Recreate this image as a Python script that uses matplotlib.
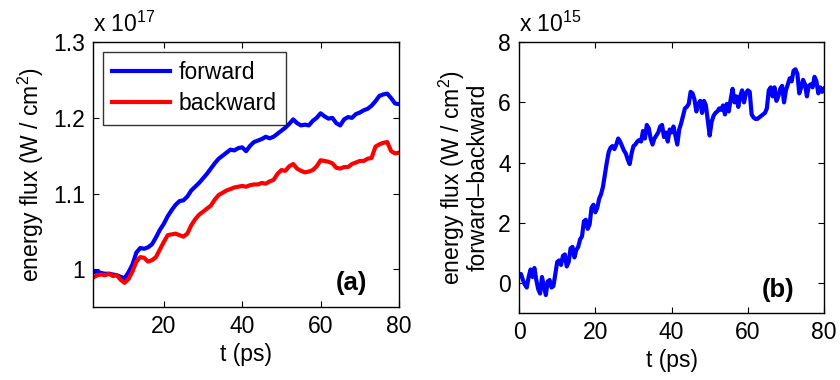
import numpy as np
import matplotlib.pyplot as plt
from matplotlib.ticker import FuncFormatter

plt.rcParams['font.family'] = ['Liberation Sans', 'DejaVu Sans']
plt.rcParams['mathtext.fontset'] = 'custom'
plt.rcParams['mathtext.rm'] = 'Liberation Sans'

# panel (a): energy flux in units of 1e17 W/cm^2, one value per ps from 2 to 80 ps
t_a = np.arange(2, 81, 1)
forward = [0.996, 0.997, 0.995, 0.994, 0.994, 0.993, 0.992, 0.990, 0.988, 0.996,
           1.006, 1.022, 1.028, 1.027, 1.029, 1.033, 1.042, 1.052, 1.060, 1.070,
           1.078, 1.085, 1.090, 1.091, 1.096, 1.104, 1.109, 1.114, 1.120, 1.126,
           1.133, 1.140, 1.146, 1.150, 1.154, 1.158, 1.157, 1.160, 1.161, 1.156,
           1.163, 1.168, 1.170, 1.172, 1.175, 1.173, 1.175, 1.179, 1.183, 1.187,
           1.192, 1.198, 1.193, 1.190, 1.191, 1.190, 1.196, 1.200, 1.206, 1.202,
           1.199, 1.200, 1.193, 1.190, 1.198, 1.201, 1.200, 1.205, 1.207, 1.210,
           1.212, 1.216, 1.222, 1.229, 1.231, 1.232, 1.226, 1.219, 1.218]
backward = [0.989, 0.992, 0.993, 0.992, 0.994, 0.991, 0.992, 0.986, 0.982, 0.987,
            0.997, 1.010, 1.016, 1.015, 1.010, 1.012, 1.016, 1.026, 1.036, 1.045,
            1.046, 1.047, 1.045, 1.043, 1.047, 1.058, 1.066, 1.072, 1.076, 1.080,
            1.084, 1.092, 1.098, 1.101, 1.104, 1.106, 1.108, 1.109, 1.110, 1.109,
            1.111, 1.112, 1.112, 1.114, 1.113, 1.116, 1.118, 1.126, 1.131, 1.130,
            1.136, 1.139, 1.133, 1.130, 1.128, 1.129, 1.131, 1.136, 1.144, 1.143,
            1.142, 1.140, 1.134, 1.133, 1.135, 1.135, 1.139, 1.141, 1.143, 1.143,
            1.146, 1.147, 1.162, 1.165, 1.167, 1.168, 1.156, 1.153, 1.154]

# panel (b): forward - backward in units of 1e15 W/cm^2, every 0.5 ps from 0 to 80 ps
t_b = np.arange(0, 80.5, 0.5)
diff = [0.25, 0.30, 0.10, -0.05, -0.15, 0.20, 0.45, 0.20, 0.50, 0.10,
        -0.20, -0.35, 0.20, -0.10, -0.40, 0.05, 0.10, -0.15, -0.10, 0.30,
        0.70, 0.75, 0.60, 0.90, 0.95, 0.55, 0.70, 1.15, 1.20, 0.85,
        1.10, 1.20, 1.45, 1.55, 2.05, 2.10, 1.80, 1.95, 2.50, 2.60,
        2.35, 2.50, 2.80, 2.95, 3.20, 3.60, 4.00, 4.35, 4.50, 4.55,
        4.45, 4.60, 4.80, 4.70, 4.55, 4.40, 4.30, 4.10, 3.95, 4.30,
        4.55, 4.60, 4.70, 4.75, 4.70, 5.05, 4.80, 5.25, 5.15, 4.80,
        4.60, 4.80, 4.90, 5.00, 5.20, 5.25, 4.85, 5.00, 4.70, 5.10,
        5.00, 5.20, 4.90, 4.60, 5.10, 5.30, 5.55, 5.80, 5.85, 5.95,
        6.35, 6.30, 6.10, 5.70, 5.95, 6.05, 5.65, 6.05, 5.90, 5.40,
        4.90, 5.35, 5.55, 5.65, 5.70, 5.80, 5.75, 5.90, 5.60, 5.95,
        5.70, 6.10, 6.45, 6.00, 6.20, 5.85, 6.20, 6.40, 6.00, 6.30,
        6.40, 6.35, 5.60, 5.50, 5.45, 5.45, 5.50, 5.55, 5.60, 5.65,
        5.80, 6.40, 6.50, 6.20, 6.50, 6.05, 6.20, 6.45, 6.55, 6.00,
        6.40, 6.60, 6.80, 6.70, 7.05, 7.10, 6.95, 6.30, 6.50, 6.75,
        6.60, 6.20, 6.55, 6.60, 6.50, 6.85, 6.70, 6.30, 6.50, 6.35,
        6.45]

fs = 16.5
fig = plt.figure(figsize=(8.4, 3.8), dpi=100)
ax1 = fig.add_axes([0.111, 0.192, 0.364, 0.697])
ax2 = fig.add_axes([0.618, 0.176, 0.363, 0.713])

def matlab_style(ax):
    ax.tick_params(direction='in', top=True, right=True, length=4, width=0.8,
                   labelsize=fs, pad=6)
    for s in ax.spines.values():
        s.set_linewidth(1.0)
    ax.yaxis.set_major_formatter(FuncFormatter(lambda v, p: '%g' % round(v, 3)))

# (a)
ax1.plot(t_a, forward, color='#0000ff', lw=3.0, label='forward')
ax1.plot(t_a, backward, color='#ff0000', lw=3.0, label='backward')
ax1.set_xlim(2, 80)
ax1.set_ylim(0.95, 1.3)
ax1.set_xticks([20, 40, 60, 80])
ax1.set_yticks([1.0, 1.1, 1.2, 1.3])
matlab_style(ax1)
ax1.set_xlabel('t (ps)', fontsize=fs, labelpad=3)
ax1.set_ylabel('energy flux (W / cm$^2$)', fontsize=fs, labelpad=5)
ax1.text(0.0, 1.02, r'x 10$^{17}$', transform=ax1.transAxes, fontsize=fs,
         ha='left', va='bottom')
ax1.text(0.845, 0.09, '(a)', transform=ax1.transAxes, fontsize=18.5,
         fontweight='bold', ha='center', va='center')
leg = ax1.legend(loc='upper left', bbox_to_anchor=(0.033, 0.962), fontsize=fs,
                 frameon=True, fancybox=False, handlelength=2.5, borderpad=0.4,
                 labelspacing=0.35, handletextpad=0.4, borderaxespad=0)
leg.get_frame().set_edgecolor('black')
leg.get_frame().set_linewidth(1.0)

# (b)
ax2.plot(t_b, diff, color='#0000ff', lw=3.0)
ax2.set_xlim(0, 80)
ax2.set_ylim(-1, 8)
ax2.set_xticks([0, 20, 40, 60, 80])
ax2.set_yticks([0, 2, 4, 6, 8])
matlab_style(ax2)
ax2.set_xlabel('t (ps)', fontsize=fs, labelpad=3)
ax2.set_ylabel('energy flux (W / cm$^2$)\nforward\u2013backward', fontsize=fs,
               labelpad=6, linespacing=1.0)
ax2.text(0.0, 1.02, r'x 10$^{15}$', transform=ax2.transAxes, fontsize=fs,
         ha='left', va='bottom')
ax2.text(0.85, 0.085, '(b)', transform=ax2.transAxes, fontsize=18.5,
         fontweight='bold', ha='center', va='center')

fig.savefig('out.png', dpi=100)
